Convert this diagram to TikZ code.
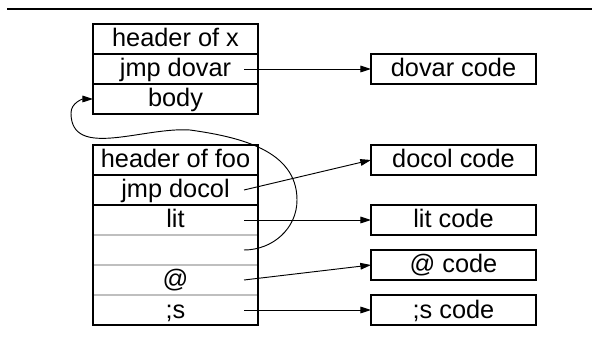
\documentclass[tikz,border=0pt]{standalone}
\usepackage{fontspec}
\setmainfont{Liberation Sans}
\usetikzlibrary{positioning,arrows.meta}

\tikzset{
  cell/.style={draw, line width=0.8pt, minimum width=123.75pt, minimum height=22.5pt,
    inner sep=0pt, outer sep=0pt, text height=14pt, text depth=2pt,
    font=\fontsize{19}{22}\selectfont},
  slot/.style={cell, draw=black!25},
  ptr/.style={-{Triangle[length=8pt,width=5pt]}, line width=0.7pt},
}

\begin{document}
\begin{tikzpicture}[x=0.75pt,y=0.75pt]
  \useasboundingbox (0,0) rectangle (592,339);
  \draw[line width=1.6pt] (7,330) -- (592,330);

  % the variable x
  \node[cell] (xhead) at (175.5,300) {header of x};
  \node[cell, below=0pt of xhead] (xjmp) {jmp dovar};
  \node[cell, below=0pt of xjmp] (xbody) {body};

  % the colon definition foo
  \node[cell, below=23.25pt of xbody] (foohead) {header of foo};
  \node[cell, below=0pt of foohead] (foojmp) {jmp docol};
  \node[slot, below=0pt of foojmp] (foolit) {lit};
  \node[slot, below=0pt of foolit] (fooaddr) {};
  \node[slot, below=0pt of fooaddr] (foofetch) {@};
  \node[slot, below=0pt of foofetch] (fooexit) {;s};
  \draw[line width=0.8pt] (foolit.north west) rectangle (fooexit.south east);

  % code fields
  \node[cell, right=84.75pt of xjmp] (dovar) {dovar code};
  \node[cell, right=84.75pt of foohead] (docol) {docol code};
  \node[cell, right=84.75pt of foolit] (litcode) {lit code};
  \node[cell, right=84.75pt of fooexit] (exitcode) {;s code};
  \node[cell, above=11.25pt of exitcode] (fetchcode) {@ code};

  \draw[ptr] ([xshift=-10.5pt]xjmp.east) -- (dovar.west);
  \draw[ptr] ([xshift=-10.5pt]foojmp.east) -- (docol.west);
  \draw[ptr] ([xshift=-10.5pt]foolit.east) -- (litcode.west);
  \draw[ptr] ([xshift=-10.5pt]foofetch.east) -- (fetchcode.west);
  \draw[ptr] ([xshift=-10.5pt]fooexit.east) -- (exitcode.west);

  % address of x, pointing back into its body
  \draw[ptr] ([xshift=-10.5pt]fooaddr.east) to[out=0,in=-90] ++(53,50)
    to[out=90,in=-8] ++(-107,70) to[out=176,in=-90] ++(-119,17)
    to[out=90,in=180] (xbody.west);
\end{tikzpicture}
\end{document}
